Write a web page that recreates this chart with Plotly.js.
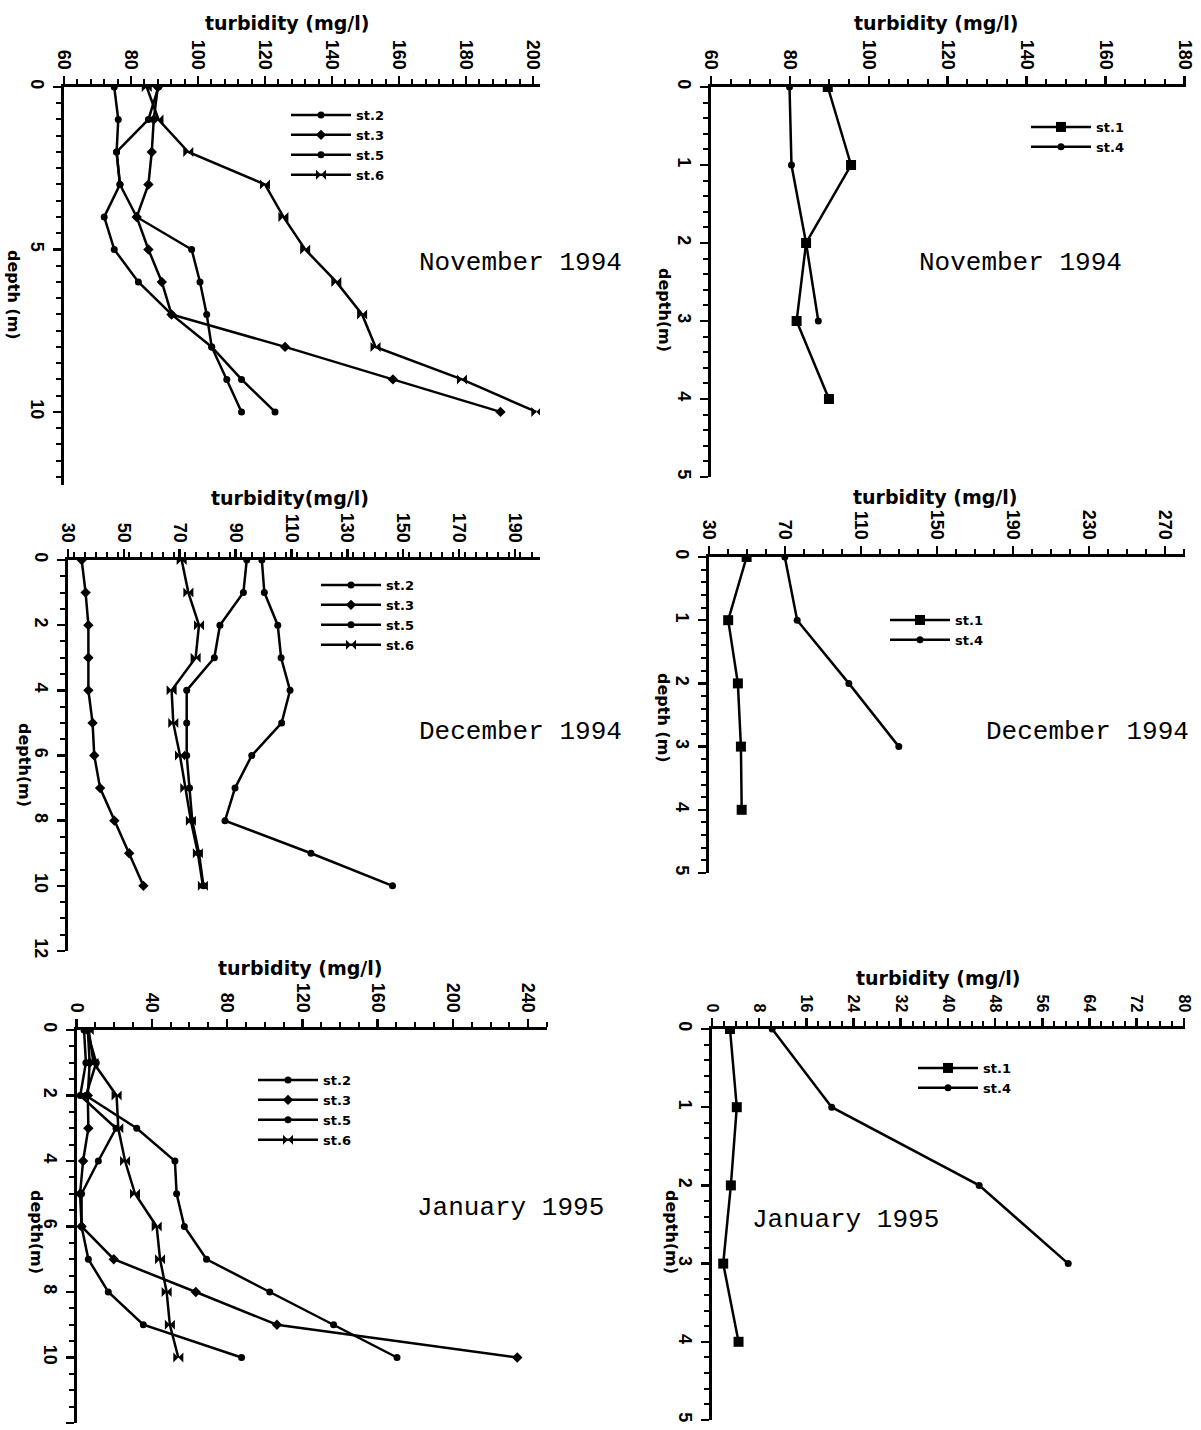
<!DOCTYPE html>
<html><head><meta charset="utf-8">
<script src="https://cdn.plot.ly/plotly-3.0.1.min.js"></script>
<style>html,body{margin:0;padding:0;background:#fff}</style>
</head><body><div id="chart" style="width:1201px;height:1430px"></div>
<script>
// ---------------- data ----------------
const depth0to10 = [0,1,2,3,4,5,6,7,8,9,10];
const depth0to4 = [0,1,2,3,4];
const depth0to3 = [0,1,2,3];

// November 1994 - stations 2,3,5,6 (turbidity mg/l)
const nov94St2 = [75.0,76.2,75.7,76.7,72.0,75.0,82.2,92.1,104.1,113.0,123.0];
const nov94St3 = [88.0,86.8,86.2,85.2,81.7,85.2,89.2,92.1,126.0,158.2,190.3];
const nov94St5 = [88.2,85.2,75.7,76.7,81.7,98.1,100.6,102.6,104.1,108.6,113.0];
const nov94St6 = [84.7,88.2,97.1,120.0,125.5,132.0,141.3,149.0,153.0,178.8,201.0];
// November 1994 - stations 1,4
const nov94St1 = [89.6,95.5,84.1,81.7,89.9];
const nov94St4 = [79.9,80.4,84.1,87.2];

// December 1994 - stations 2,3,5,6
const dec94St2 = [99.4,100.3,105.1,106.3,109.5,106.5,95.8,89.8,86.2,117.0,146.2];
const dec94St3 = [34.9,36.3,37.3,37.3,37.3,38.8,39.4,41.5,46.6,51.9,57.0];
const dec94St5 = [94.0,92.8,84.4,82.4,72.5,72.5,72.5,73.5,74.5,76.9,78.5];
const dec94St6 = [70.7,73.1,76.9,75.7,67.1,67.7,70.1,72.0,74.0,76.5,78.3];
// December 1994 - stations 1,4
const dec94St1 = [49.8,40.1,45.2,46.8,47.2];
const dec94St4 = [69.9,76.4,103.6,129.9];

// January 1995 - stations 2,3,5,6
const jan95St2 = [4.0,5.0,2.0,21.0,11.6,2.7,2.7,6.3,16.9,35.5,87.7];
const jan95St3 = [6.0,7.0,6.0,6.3,3.5,1.9,2.7,19.8,63.4,106.5,234.2];
const jan95St5 = [5.5,10.5,5.0,32.0,52.3,53.2,57.3,69.1,102.7,136.6,170.3];
const jan95St6 = [6.5,9.0,21.3,22.2,25.8,31.1,42.6,44.4,47.9,49.6,54.1];
// January 1995 - stations 1,4
const jan95St1 = [3.05,4.2,3.2,1.9,4.5];
const jan95St4 = [10.2,20.3,45.3,60.4];

const labelsA = ['st.2','st.3','st.5','st.6'];
const labelsB = ['st.1','st.4'];
const monthLabels = ['November 1994','December 1994','January 1995'];

// ---------------- styling ----------------
const W = 1201, H = 1430;
const px = x => x / W;
const py = y => 1 - y / H;
const tickFont = {family:'Liberation Sans, Arial, sans-serif', size:18, color:'black', weight:'bold'};
const smallTickFont = {family:'Liberation Sans, Arial, sans-serif', size:16, color:'black', weight:'bold'};
const titleFont = {family:'DejaVu Sans, sans-serif', size:19, color:'black', weight:'bold'};
const yTitleFont = {family:'DejaVu Sans, sans-serif', size:16, color:'black', weight:'bold'};
const legendFont = {family:'DejaVu Sans, sans-serif', size:13, color:'black', weight:'bold'};
const monoFont = {family:'Liberation Mono, DejaVu Sans Mono, monospace', size:26, color:'black'};

const symA = ['circle','diamond','circle','bowtie'];
const sizeA = [7,8,7,10];
const symB = ['square','circle'];
const sizeB = [10,7];

const traces = [];
function addSeries(xs, ys, name, sym, size, n) {
  traces.push({
    x: xs, y: ys, name: name, type:'scatter', mode:'lines+markers',
    xaxis: n === 1 ? 'x' : 'x' + n, yaxis: n === 1 ? 'y' : 'y' + n,
    legend: n === 1 ? 'legend' : 'legend' + n,
    line:{color:'black', width:2.5},
    marker:{color:'black', symbol:sym, size:size}
  });
}
[[nov94St2,nov94St3,nov94St5,nov94St6],[dec94St2,dec94St3,dec94St5,dec94St6],[jan95St2,jan95St3,jan95St5,jan95St6]]
  .forEach((set, i) => set.forEach((vals, j) => addSeries(vals, depth0to10, labelsA[j], symA[j], sizeA[j], 2*i+1)));
[[nov94St1,nov94St4],[dec94St1,dec94St4],[jan95St1,jan95St4]]
  .forEach((set, i) => set.forEach((vals, j) => addSeries(vals, j===0 ? depth0to4 : depth0to3, labelsB[j], symB[j], sizeB[j], 2*i+2)));

// panel geometry in pixels
const panels = [
  {box:[64,540,87,485], xr:[60,202.1], xd:20, xm:4, ym:12.25, yd:5, ymn:0.5, xt:'turbidity (mg/l)', xtx:287, xty:23, yt:'depth (m)', ytx:13, yty:295},
  {box:[711,1186,87,477], xr:[60,180.4], xd:20, xm:5, ym:5, yd:1, ymn:0.2, xt:'turbidity (mg/l)', xtx:936, xty:23, yt:'depth(m)', ytx:665, yty:310},
  {box:[68,540,560,951], xr:[30,199], xd:20, xm:4, ym:12, yd:2, ymn:0.5, xt:'turbidity(mg/l)', xtx:290, xty:498, yt:'depth(m)', ytx:25, yty:765},
  {box:[709,1185,557,873], xr:[30,280.5], xd:40, xm:10, ym:5, yd:1, ymn:0.2, xt:'turbidity (mg/l)', xtx:935, xty:497, yt:'depth (m)', ytx:664, yty:718},
  {box:[76.5,547,1030,1423], xr:[0,250], xd:40, xm:10, ym:12, yd:2, ymn:0.5, xt:'turbidity (mg/l)', xtx:300, xty:968, yt:'depth(m)', ytx:37, yty:1232},
  {box:[712,1185,1029,1420], xr:[0,80.2], xd:8, xm:2, ym:5, yd:1, ymn:0.2, xt:'turbidity (mg/l)', xtx:939, xty:978, yt:'depth(m)', ytx:672, yty:1232, small:true}
];
const legendPos = [[286,100],[1026,112],[316,570],[885,605],[253,1065],[913,1053]];
const monthPos = [[520,263,0],[1020,263,0],[520,732,1],[1087,732,1],[510,1208,2],[845,1220,2]];

const layout = {
  width: W, height: H, margin:{l:0,r:0,t:0,b:0},
  paper_bgcolor:'white', plot_bgcolor:'rgba(0,0,0,0)',
  showlegend:true, annotations:[]
};
panels.forEach((p, i) => {
  const n = i + 1, sx = n === 1 ? '' : String(n);
  const axisCommon = {
    showline:true, linewidth:3, linecolor:'black', mirror:false,
    ticks:'outside', ticklen:8, tickwidth:2.5, tickcolor:'black',
    tickangle:90, tickfont:tickFont, showgrid:false, zeroline:false,
    fixedrange:true
  };
  layout['xaxis' + sx] = Object.assign({}, axisCommon, {
    domain:[px(p.box[0]), px(p.box[1])], range:p.xr, side:'top', anchor:'y' + sx,
    tick0:p.xr[0], dtick:p.xd, tickfont: p.small ? smallTickFont : tickFont,
    minor:{dtick:p.xm, ticks:'outside', ticklen:5, tickwidth:2, tickcolor:'black', showgrid:false}
  });
  layout['yaxis' + sx] = Object.assign({}, axisCommon, {
    domain:[py(p.box[3]), py(p.box[2])], range:[p.ym, 0], anchor:'x' + sx,
    tick0:0, dtick:p.yd,
    minor:{dtick:p.ymn, ticks:'outside', ticklen:5, tickwidth:2, tickcolor:'black', showgrid:false}
  });
  layout.annotations.push({
    xref:'paper', yref:'paper', x:px(p.xtx), y:py(p.xty), text:p.xt,
    showarrow:false, font:titleFont, xanchor:'center', yanchor:'middle'
  });
  layout.annotations.push({
    xref:'paper', yref:'paper', x:px(p.ytx), y:py(p.yty), text:p.yt, textangle:90,
    showarrow:false, font:yTitleFont, xanchor:'center', yanchor:'middle'
  });
  layout['legend' + (n === 1 ? '' : n)] = {
    x:px(legendPos[i][0]), y:py(legendPos[i][1]), xanchor:'left', yanchor:'top',
    bgcolor:'rgba(0,0,0,0)', borderwidth:0, font:legendFont, itemwidth:60,
    tracegroupgap:0, traceorder:'normal'
  };
});
monthPos.forEach(m => layout.annotations.push({
  xref:'paper', yref:'paper', x:px(m[0]), y:py(m[1]), text:monthLabels[m[2]],
  showarrow:false, font:monoFont, xanchor:'center', yanchor:'middle'
}));

Plotly.newPlot('chart', traces, layout, {displayModeBar:false, staticPlot:true});
</script></body></html>
